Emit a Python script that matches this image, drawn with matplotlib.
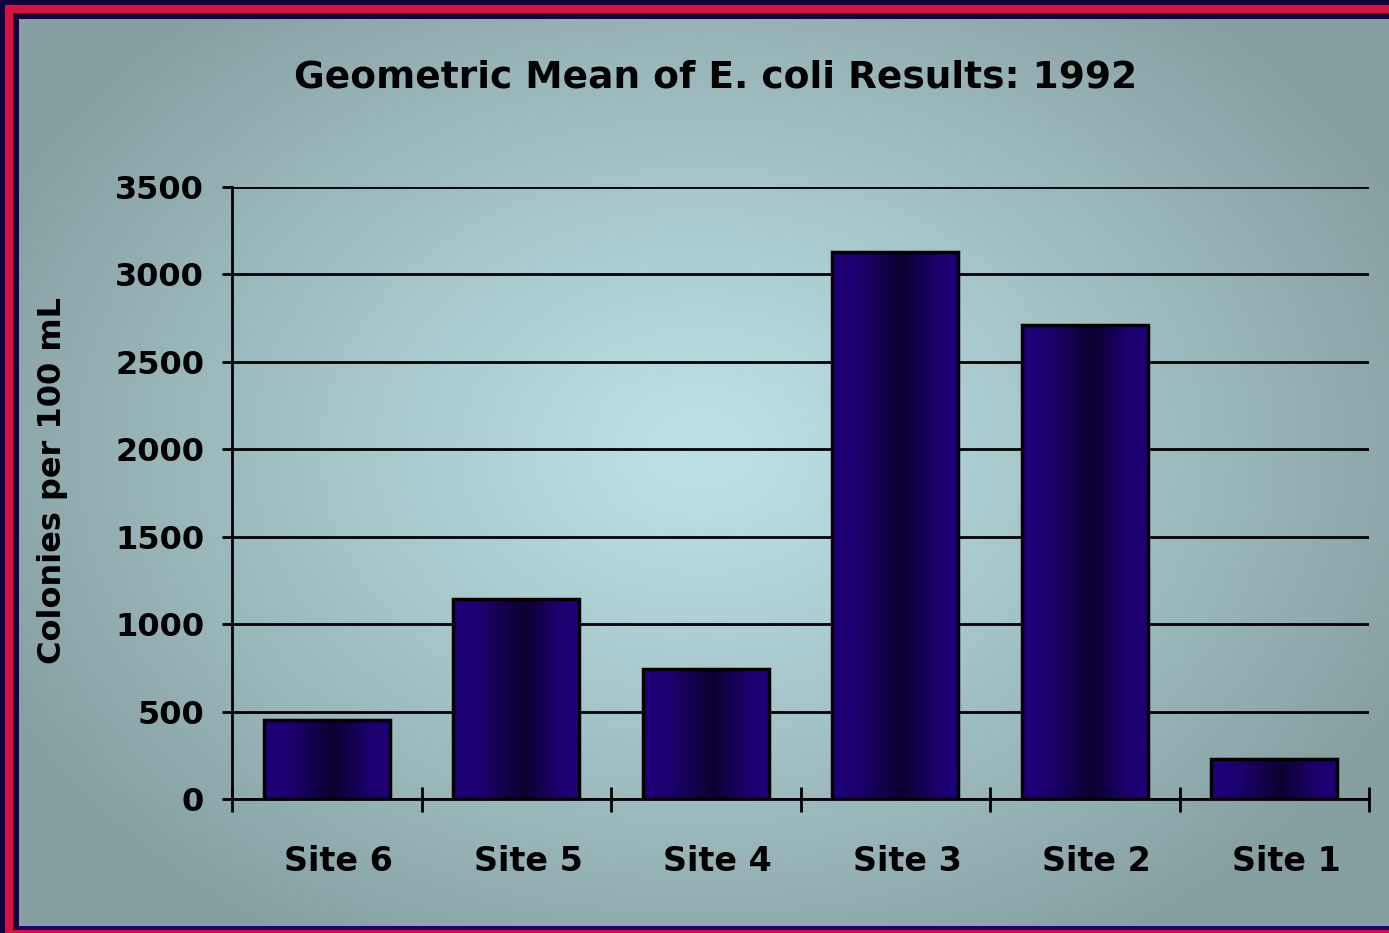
import numpy as np
import matplotlib
matplotlib.use('Agg')
import matplotlib.pyplot as plt
from matplotlib.colors import LinearSegmentedColormap
from matplotlib.patches import Rectangle
import matplotlib.transforms as mtransforms

sites = ['Site 6', 'Site 5', 'Site 4', 'Site 3', 'Site 2', 'Site 1']
geo_mean = [452, 1144, 743, 3128, 2711, 229]
y_ticks = [0, 500, 1000, 1500, 2000, 2500, 3000, 3500]

W, H = 1389, 933
plt.rcParams['font.family'] = ['DejaVu Sans']
plt.rcParams['font.weight'] = 'bold'

fig = plt.figure(figsize=(W / 100, H / 100), dpi=100)

# radial background
bg = fig.add_axes([0, 0, 1, 1], zorder=-10)
yy, xx = np.mgrid[0:H, 0:W]
r = np.sqrt(((xx - 700) / 780.0) ** 2 + ((yy - 450) / 580.0) ** 2)
r = np.clip(r, 0, 1)[..., None]
c_in = np.array([0xbd, 0xe2, 0xe6]) / 255.0
c_out = np.array([0x86, 0x9f, 0xa1]) / 255.0
img = c_in * (1 - r ** 1.1) + c_out * (r ** 1.1)
bg.imshow(img, extent=[0, W, H, 0], aspect='auto', interpolation='bilinear')
bg.set_xlim(0, W)
bg.set_ylim(H, 0)
bg.axis('off')

# frame (left / top / bottom)
purple = '#14003c'
red = '#d81040'
for x0, x1, col in [(0, 5, purple), (5, 13, red), (13, 19, purple)]:
    bg.add_patch(Rectangle((x0, x0), x1 - x0, H, color=col, lw=0))
    bg.add_patch(Rectangle((x0, x0), W, x1 - x0, color=col, lw=0))
bg.add_patch(Rectangle((19, 926), W, 4, color='#1e0078', lw=0))
bg.add_patch(Rectangle((13, 930), W, 3, color=red, lw=0))

ax = fig.add_axes([232 / W, 1 - 799 / H, (1369 - 232) / W, (799 - 187) / H])
ax.set_facecolor('none')

x = np.arange(len(sites))
bars = ax.bar(x, geo_mean, width=0.665, facecolor='none', edgecolor='black',
              linewidth=2.5, zorder=3)

bar_cmap = LinearSegmentedColormap.from_list(
    'barg', [(0, '#1e0078'), (0.2, '#1c0070'), (0.55, '#0c0030'), (0.85, '#1c0070'), (1, '#1e0078')])
grad = np.linspace(0, 1, 256)[None, :]
for b in bars:
    im = ax.imshow(grad, extent=[b.get_x(), b.get_x() + b.get_width(), 0, b.get_height()],
                   aspect='auto', cmap=bar_cmap, zorder=2, interpolation='bilinear')
    im.set_clip_path(b)

ax.set_xlim(-0.5, len(sites) - 0.5)
ax.set_ylim(0, 3500)
ax.set_yticks(y_ticks)
ax.set_yticklabels([str(v) for v in y_ticks], fontsize=23, fontweight='bold')
ax.set_xticks(x)
ax.set_xticklabels(sites, fontsize=24, fontweight='bold')
ax.set_xticks(np.arange(-0.5, len(sites)), minor=True)
ax.tick_params(axis='x', which='major', length=0, pad=33)
ax.tick_params(axis='x', which='minor', direction='inout', length=18, width=2)
ax.tick_params(axis='y', direction='out', length=7, width=2, pad=13)
offset = mtransforms.ScaledTranslation(12 / 100, 0, fig.dpi_scale_trans)
for lab in ax.get_xticklabels():
    lab.set_transform(lab.get_transform() + offset)

ax.yaxis.grid(True, color='black', linewidth=2)
ax.set_axisbelow(True)
for s in ['top', 'right']:
    ax.spines[s].set_visible(False)
for s in ['left', 'bottom']:
    ax.spines[s].set_linewidth(2)
    ax.spines[s].set_zorder(4)

fig.text(716 / W, 1 - 77 / H, 'Geometric Mean of E. coli Results: 1992',
         ha='center', va='center', fontsize=27, fontweight='bold')
fig.text(52 / W, 1 - 480 / H, 'Colonies per 100 mL', rotation=90,
         ha='center', va='center', fontsize=23, fontweight='bold')

fig.savefig('out.png', dpi=100)
